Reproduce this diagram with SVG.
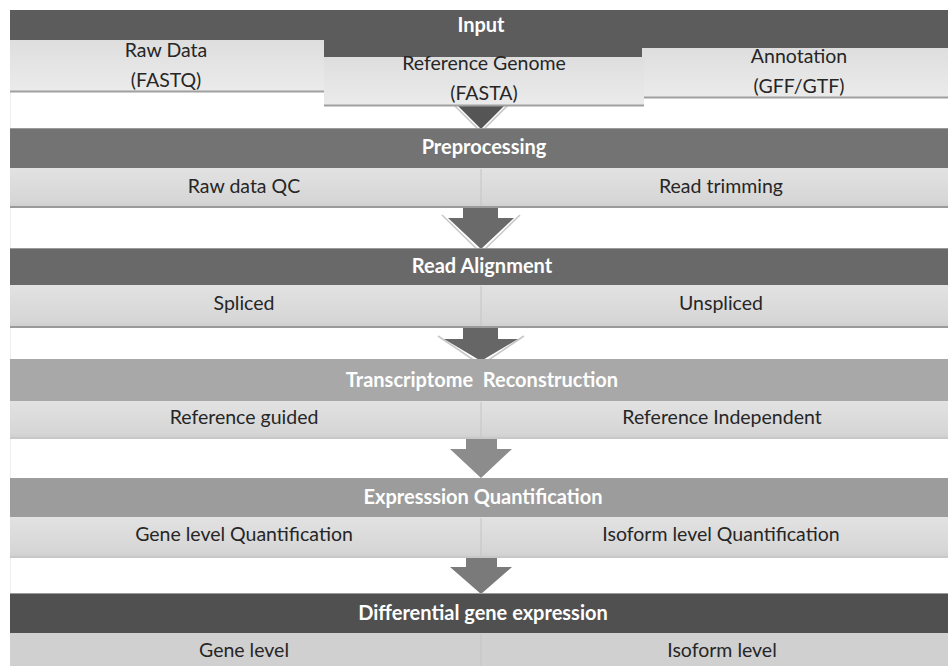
<svg xmlns="http://www.w3.org/2000/svg" width="948" height="666" viewBox="0 0 948 666">
<defs>
<linearGradient id="sub" x1="0" y1="0" x2="0" y2="1">
<stop offset="0" stop-color="#e2e2e2"/><stop offset="0.85" stop-color="#d6d6d6"/><stop offset="1" stop-color="#cfcfcf"/>
</linearGradient>
<linearGradient id="inbox" x1="0" y1="0" x2="0" y2="1">
<stop offset="0" stop-color="#dedede"/><stop offset="0.6" stop-color="#e6e6e6"/><stop offset="1" stop-color="#ebebeb"/>
</linearGradient>
</defs>
<style>
.hd{font-family:Lato,"Open Sans","Liberation Sans",sans-serif;font-weight:bold;font-size:20px;fill:#ffffff;text-anchor:middle}
.tx{font-family:Lato,"Open Sans","Liberation Sans",sans-serif;font-size:19.5px;fill:#262626;text-anchor:middle}
.sub{fill:url(#sub)}
.subline{stroke:#9a9a9a;stroke-width:2}
.div{stroke:#c4c4c4;stroke-width:1}
.halo{fill:none;stroke:#c8c8c8;stroke-width:1.6}
</style>
<rect width="948" height="666" fill="#ffffff"/>
<line x1="10.5" y1="92" x2="10.5" y2="666" stroke="#eeeeee" stroke-width="1"/>

<g id="connectors">
<polyline class="halo" points="451,102 481,132 511,102"/>
<polygon fill="#555555" points="456,104 506,104 481,129"/>
<polyline class="halo" points="442,215 481,253 520,215"/>
<polygon fill="#6a6a6a" points="463,207 498,207 498,218 514,218 481,249 448,218 463,218"/>
<polyline class="halo" points="438,336 481,365 524,336"/>
<polygon fill="#666666" points="463,327 498,327 498,339 518,339 481,361 444,339 463,339"/>
<polygon fill="#8c8c8c" points="466,438 497,438 497,449 512,449 481,478 450,449 466,449"/>
<polygon fill="#7a7a7a" points="466,557 497,557 497,567 512,567 481,594 450,567 466,567"/>
</g>

<g id="input">
<rect x="10" y="10" width="938" height="47" fill="#5c5c5c"/>
<text class="hd" x="481" y="32">Input</text>
</g>
<g id="raw-data">
<rect x="10" y="40" width="314" height="52" fill="url(#inbox)"/>
<line x1="10" y1="91.5" x2="324" y2="91.5" stroke="#a0a0a0" stroke-width="2"/>
<text class="tx" x="166" y="57">Raw Data</text>
<text class="tx" x="166" y="87">(FASTQ)</text>
</g>
<g id="annotation">
<rect x="642" y="48" width="306" height="50" fill="url(#inbox)"/>
<line x1="642" y1="97.5" x2="948" y2="97.5" stroke="#a0a0a0" stroke-width="2"/>
<text class="tx" x="799" y="63">Annotation</text>
<text class="tx" x="799" y="93">(GFF/GTF)</text>
</g>
<g id="reference-genome">
<rect x="324" y="57" width="320" height="49" fill="url(#inbox)"/>
<line x1="324" y1="105.5" x2="644" y2="105.5" stroke="#a0a0a0" stroke-width="2"/>
<text class="tx" x="484" y="70">Reference Genome</text>
<text class="tx" x="484" y="100">(FASTA)</text>
</g>

<g id="preprocessing">
<rect x="10" y="128" width="938" height="40" fill="#737373"/>
<line x1="10" y1="128.5" x2="948" y2="128.5" stroke="#9a9a9a" stroke-width="1"/>
<text class="hd" x="484" y="154">Preprocessing</text>
<rect class="sub" x="10" y="168" width="938" height="39"/>
<line class="subline" x1="10" y1="207" x2="948" y2="207"/>
<line class="div" x1="481" y1="169" x2="481" y2="206"/>
<text class="tx" x="244" y="193">Raw data QC</text>
<text class="tx" x="721" y="193">Read trimming</text>
</g>

<g id="read-alignment">
<rect x="10" y="248" width="938" height="37" fill="#696969"/>
<line x1="10" y1="248.5" x2="948" y2="248.5" stroke="#9a9a9a" stroke-width="1"/>
<text class="hd" x="482" y="273">Read Alignment</text>
<rect class="sub" x="10" y="285" width="938" height="42"/>
<line class="subline" x1="10" y1="327" x2="948" y2="327"/>
<line class="div" x1="481" y1="286" x2="481" y2="326"/>
<text class="tx" x="244" y="310">Spliced</text>
<text class="tx" x="721" y="310">Unspliced</text>
</g>

<g id="transcriptome-reconstruction">
<rect x="10" y="359" width="938" height="42" fill="#a8a8a8"/>
<text class="hd" x="482" y="387" xml:space="preserve">Transcriptome  Reconstruction</text>
<rect class="sub" x="10" y="401" width="938" height="37"/>
<line x1="10" y1="438" x2="948" y2="438" stroke="#c8c8c8" stroke-width="2"/>
<line class="div" x1="481" y1="402" x2="481" y2="437"/>
<text class="tx" x="244" y="424">Reference guided</text>
<text class="tx" x="722" y="424">Reference Independent</text>
</g>

<g id="expression-quantification">
<rect x="10" y="478" width="938" height="39" fill="#9c9c9c"/>
<text class="hd" x="483" y="504">Expresssion Quantification</text>
<rect class="sub" x="10" y="517" width="938" height="40"/>
<line x1="10" y1="557" x2="948" y2="557" stroke="#c8c8c8" stroke-width="2"/>
<line class="div" x1="481" y1="518" x2="481" y2="556"/>
<text class="tx" x="244" y="541">Gene level Quantification</text>
<text class="tx" x="721" y="541">Isoform level Quantification</text>
</g>

<g id="differential-gene-expression">
<rect x="10" y="593" width="938" height="40" fill="#505050"/>
<line x1="10" y1="593.5" x2="948" y2="593.5" stroke="#9a9a9a" stroke-width="1"/>
<text class="hd" x="483" y="620">Differential gene expression</text>
<rect x="10" y="633" width="938" height="33" fill="#d0d0d0"/>
<line class="div" x1="481" y1="634" x2="481" y2="666"/>
<text class="tx" x="244" y="657">Gene level</text>
<text class="tx" x="722" y="657">Isoform level</text>
</g>
</svg>
